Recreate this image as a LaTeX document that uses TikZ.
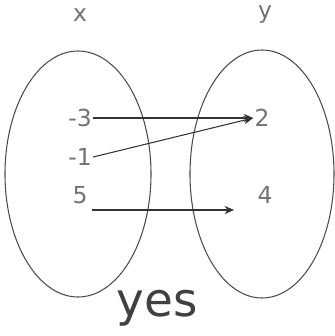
\documentclass[tikz,border=0pt]{standalone}
\usepackage{fontspec}
\setmainfont{DejaVu Sans}
\usetikzlibrary{shapes.geometric,arrows.meta}
\begin{document}
\begin{tikzpicture}[x=0.03cm,y=-0.03cm,
  setring/.style={draw=black!70,line width=0.9pt,ellipse,inner sep=0pt},
  lbl/.style={text=black!55,font=\fontsize{20}{22}\selectfont,inner sep=1pt},
  maparrow/.style={draw=black!80,line width=0.9pt,-{Stealth[length=8pt,width=7pt]}},
  ans/.style={text=black!75,font=\fontsize{40}{44}\selectfont}]
\useasboundingbox[fill=white] (0,0) rectangle (334,336);
\node[setring,minimum width=4.38cm,minimum height=7.38cm] (X) at (78,174) {};
\node[setring,minimum width=4.32cm,minimum height=7.44cm] (Y) at (262,174) {};
\node[lbl] (tx) at (80,15) {x};
\node[lbl] (ty) at (265,15) {y};
\node[lbl] (a) at (80,118) {-3};
\node[lbl] (b) at (80,157) {-1};
\node[lbl] (c) at (80,195) {5};
\node[lbl] (p) at (262,118) {2};
\node[lbl] (q) at (265,195) {4};
\coordinate (c0) at (92,210);
\coordinate (q0) at (234,210);
\draw[maparrow] (a.east) -- (p.west);
\draw[maparrow] (b.east) -- (p.west);
\draw[maparrow] (c0) -- (q0);
\node[ans] (yes) at (157,308) {yes};
\end{tikzpicture}
\end{document}
